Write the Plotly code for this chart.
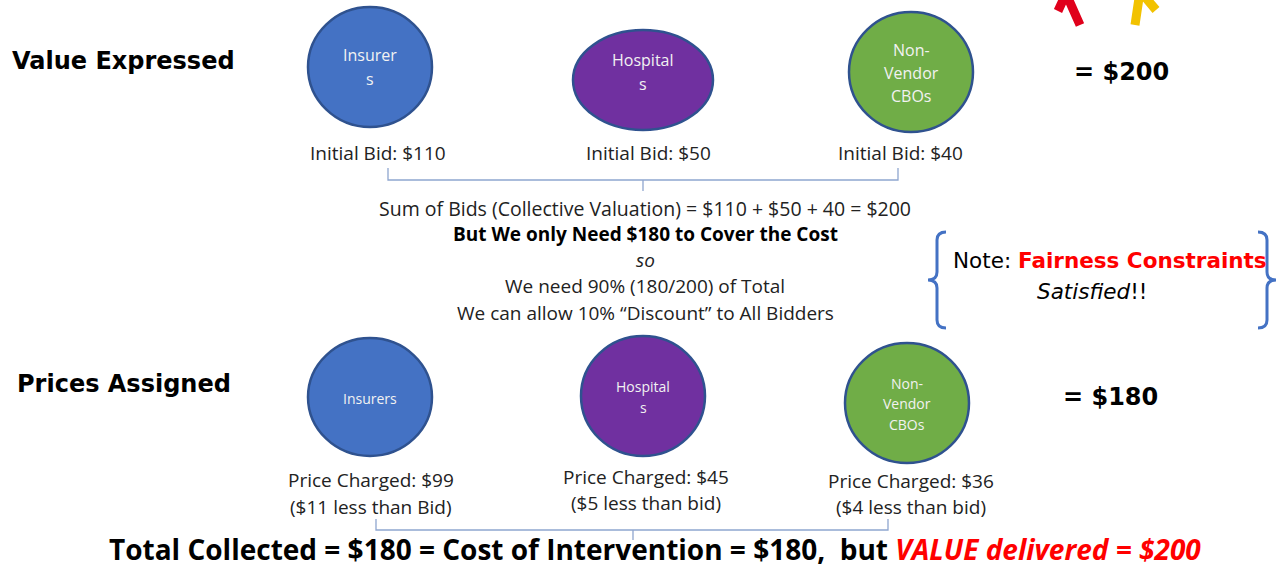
import plotly.graph_objects as go

# ---- data ----
groups = ["Insurers", "Hospitals", "Non-Vendor CBOs"]
top_circle_labels = ["Insurer<br>s", "Hospital<br>s", "Non-<br>Vendor<br>CBOs"]
bottom_circle_labels = ["Insurers", "Hospital<br>s", "Non-<br>Vendor<br>CBOs"]
initial_bids = [110, 50, 40]
prices_charged = [99, 45, 36]
total_value = 200
cost = 180

# ---- layout geometry (pixels) ----
W, H = 1279, 568
BLUE, PURPLE, GREEN, EDGE = "#4472C4", "#7030A0", "#70AD47", "#2F528F"
fills = [BLUE, PURPLE, GREEN]
top_c = [(370, 67, 62, 60), (643, 80, 70, 50), (911, 72, 62, 60)]
bot_c = [(370, 397, 62, 59), (643, 396, 62, 60), (907, 403, 62, 60)]
top_txt_y = [[55, 79], [60, 84], [50, 73, 96]]
bot_txt_y = [[398], [386, 407], [383, 403, 424]]
bid_pos = [(378, 153), (648, 153), (900, 153)]
price_pos = [(371, 480, 507), (646, 477, 503), (911, 481, 507)]

BODY = "Open Sans"
HEAD = "DejaVu Sans"
fig = go.Figure()
shapes = []
ann = []

def text(x, y, s, size=19, color="#222", family=BODY, xanchor="center"):
    ann.append(dict(x=x, y=y, xref="x", yref="y", text=s, showarrow=False,
                    font=dict(size=size, color=color, family=family),
                    xanchor=xanchor, yanchor="middle"))

for i, (cx, cy, rx, ry) in enumerate(top_c):
    shapes.append(dict(type="circle", xref="x", yref="y", x0=cx - rx, x1=cx + rx,
                       y0=cy - ry, y1=cy + ry, fillcolor=fills[i],
                       line=dict(color=EDGE, width=2.5)))
    for line, y in zip(top_circle_labels[i].split("<br>"), top_txt_y[i]):
        text(cx, y, line, size=16, color="#F2F2F2")
    bx, by = bid_pos[i]
    text(bx, by, f"Initial Bid: ${initial_bids[i]}")

for i, (cx, cy, rx, ry) in enumerate(bot_c):
    shapes.append(dict(type="circle", xref="x", yref="y", x0=cx - rx, x1=cx + rx,
                       y0=cy - ry, y1=cy + ry, fillcolor=fills[i],
                       line=dict(color=EDGE, width=2.5)))
    for line, y in zip(bottom_circle_labels[i].split("<br>"), bot_txt_y[i]):
        text(cx, y, line, size=14, color="#F2F2F2")
    px, py1, py2 = price_pos[i]
    diff = initial_bids[i] - prices_charged[i]
    word = "Bid" if i == 0 else "bid"
    text(px, py1, f"Price Charged: ${prices_charged[i]}")
    text(px, py2, f"(${diff} less than {word})")

# thin braces
shapes.append(dict(type="path", xref="x", yref="y",
                   path="M 388,168 L 388,180 L 898,180 L 898,168 M 643,180 L 643,191",
                   line=dict(color="#8FA6CF", width=1.3)))
shapes.append(dict(type="path", xref="x", yref="y",
                   path="M 376,519 L 376,530 L 888,530 L 888,519 M 633,530 L 633,540",
                   line=dict(color="#8FA6CF", width=1.3)))
# note brackets
shapes.append(dict(type="path", xref="x", yref="y",
                   path="M 946,232 Q 937,232 937,240 L 937,272 Q 937,280 928,280 Q 937,280 937,288 L 937,320 Q 937,328 946,328",
                   line=dict(color=BLUE, width=3)))
shapes.append(dict(type="path", xref="x", yref="y",
                   path="M 1258,232 Q 1267,232 1267,240 L 1267,272 Q 1267,280 1276,280 Q 1267,280 1267,288 L 1267,320 Q 1267,328 1258,328",
                   line=dict(color=BLUE, width=3)))
# decorative figures (top right)
shapes.append(dict(type="path", xref="x", yref="y",
                   path="M 1064,-2 L 1058,11 M 1068,-2 L 1080,25",
                   line=dict(color="#E0001B", width=9)))
shapes.append(dict(type="path", xref="x", yref="y",
                   path="M 1139,-2 L 1135,25 M 1146,-2 L 1156,10",
                   line=dict(color="#F2C200", width=9)))

# headings
text(10, 61, "<b>Value Expressed</b>", size=24, color="#000", family=HEAD, xanchor="left")
text(15, 384, "<b>Prices Assigned</b>", size=24, color="#000", family=HEAD, xanchor="left")
text(1121, 72, f"<b>= ${total_value}</b>", size=24, color="#000", family=HEAD)
text(1110, 397, f"<b>= ${cost}</b>", size=24, color="#000", family=HEAD)

# middle explanation
bid_sum = sum(initial_bids)
text(645, 208, f"Sum of Bids (Collective Valuation) = ${initial_bids[0]} + ${initial_bids[1]} + {initial_bids[2]} = ${bid_sum}", size=19.5)
text(645, 234, f"<b>But We only Need ${cost} to Cover the Cost</b>", color="#000")
text(645, 260, "<i>so</i>")
pct = round(100 * cost / total_value)
text(645, 286, f"We need {pct}% ({cost}/{total_value}) of Total")
text(645, 313, f"We can allow {100 - pct}% “Discount” to All Bidders")

# note
text(951, 260, "Note: <b><span style='color:#FF0000'>Fairness Constraints</span></b>",
     size=21.5, color="#000", family=HEAD, xanchor="left")
text(1035, 291, "<i>Satisfied</i>!!", size=21.5, color="#000", family=HEAD, xanchor="left")

# bottom line
text(655, 549, f"<b>Total Collected = ${cost} = Cost of Intervention = ${cost},  but "
               f"<span style='color:#FF0000'><i>VALUE delivered = ${total_value}</i></span></b>",
     size=28, color="#000", family=BODY)

fig.update_layout(
    width=W, height=H, margin=dict(l=0, r=0, t=0, b=0),
    paper_bgcolor="white", plot_bgcolor="white",
    xaxis=dict(range=[0, W], visible=False, fixedrange=True),
    yaxis=dict(range=[H, 0], visible=False, fixedrange=True),
    shapes=shapes, annotations=ann, showlegend=False,
)
fig.write_html("out.html", config={"displayModeBar": False},
               post_script="document.body.style.margin='0';document.body.style.overflow='hidden';")
